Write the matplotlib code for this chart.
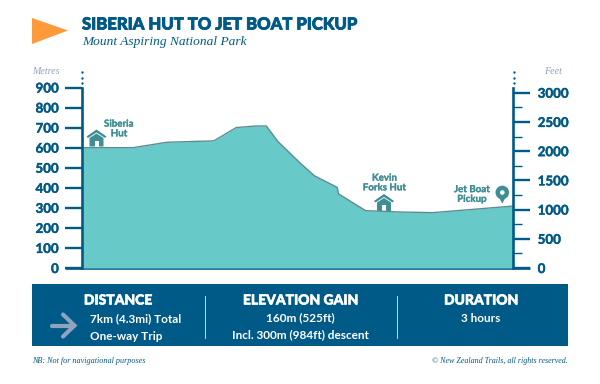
import matplotlib
matplotlib.use('Agg')
import matplotlib.pyplot as plt
import matplotlib.patheffects as pe
from matplotlib.patches import Polygon, Rectangle, Circle

# trail profile, km along the track vs elevation in metres
distance_km = [0, 0.83, 1.38, 2.14, 2.5, 2.81, 2.99, 3.18, 3.54, 3.77, 4.14, 4.16, 4.6, 5.17, 5.69, 7.0]
elevation_m = [600, 600, 627, 634, 700, 708, 708, 630, 523, 460, 402, 370, 286, 279, 276, 309]
metre_ticks = [0, 100, 200, 300, 400, 500, 600, 700, 800, 900]
feet_ticks = [0, 500, 1000, 1500, 2000, 2500, 3000]
feet_minor = [250, 750, 1250, 1750, 2250, 2750]

navy = '#005A87'
teal = '#68CAC8'
teal_dark = '#3F8E96'
outline = '#5C8C92'
orange = '#FF9A3C'
grey_blue = '#8FA3BE'
sans = 'Lato'
serif = 'Liberation Serif'


def heavy(w, col):
    # fatten the text a little, the original face is heavier than Lato
    return [pe.withStroke(linewidth=w, foreground=col)]


W, H = 600, 384
fig = plt.figure(figsize=(6, 3.84), dpi=100)
fig.patch.set_facecolor('white')

# decoration layer in pixel coordinates
bg = fig.add_axes([0, 0, 1, 1])
bg.set_xlim(0, W)
bg.set_ylim(H, 0)
bg.axis('off')

x0, x1, ytop, ybot = 82, 513.5, 87.5, 268
ax = fig.add_axes([x0 / W, 1 - ybot / H, (x1 - x0) / W, (ybot - ytop) / H])
ax.patch.set_alpha(0)
ax.set_xlim(0, 7)
ax.set_ylim(0, 900)
ax.fill_between(distance_km, elevation_m, 0, color=teal, lw=0)
ax.plot(distance_km, elevation_m, color=outline, lw=1.0)
ax.set_xticks([])
ax.set_yticks(metre_ticks)
ax.tick_params(axis='y', length=12.2, width=1.7, color=navy, pad=4.5,
               labelcolor=navy, labelsize=9.6)
for t in ax.get_yticklabels():
    t.set_fontfamily(sans)
    t.set_fontweight('bold')
    t.set_path_effects(heavy(0.3, navy))
for s in ['top', 'right', 'bottom']:
    ax.spines[s].set_visible(False)
ax.spines['left'].set_color(navy)
ax.spines['left'].set_linewidth(1.9)

# feet axis, its own scale
feet_top = 3000 * (ybot - ytop) / (ybot - 92.7)
ax2 = ax.twinx()
ax2.patch.set_alpha(0)
ax2.set_ylim(0, feet_top)
ax2.set_yticks(feet_ticks)
ax2.set_yticks(feet_minor, minor=True)
ax2.tick_params(axis='y', which='major', length=12.2, width=1.7, color=navy, pad=5.2,
                labelcolor=navy, labelsize=9.6)
ax2.tick_params(axis='y', which='minor', length=6.5, width=1.0, color=navy)
for t in ax2.get_yticklabels():
    t.set_fontfamily(sans)
    t.set_fontweight('bold')
    t.set_path_effects(heavy(0.3, navy))
for s in ['top', 'left', 'bottom']:
    ax2.spines[s].set_visible(False)
ax2.spines['right'].set_color(navy)
ax2.spines['right'].set_linewidth(1.9)

# baseline and dotted axis tops
bg.plot([65, 530], [268, 268], color=navy, lw=1.9, solid_capstyle='butt', zorder=5)
for px in [x0, x1]:
    bg.plot([px] * 3, [72, 77.5, 83], ls='none', marker='o', ms=1.7, mew=0, color=navy)

# header
bg.add_patch(Polygon([[32, 18], [32, 44], [68, 30.5]], color=orange, lw=0))
bg.text(82, 24.5, 'SIBERIA HUT TO JET BOAT PICKUP', family=sans, weight='black',
        fontsize=12.0, color=navy, va='center', ha='left', path_effects=heavy(0.6, navy))
bg.text(82, 42, 'Mount Aspiring National Park', family=serif, style='italic',
        fontsize=9.6, color=navy, va='center', ha='left')
bg.text(32, 71, 'Metres', family=serif, style='italic', fontsize=7.2, color=grey_blue,
        va='center', ha='left')
bg.text(544, 71.5, 'Feet', family=serif, style='italic', fontsize=7.2, color=grey_blue,
        va='center', ha='left')


def house(cx, base, s=1.0):
    # little hut icon, roof then walls
    bg.add_patch(Polygon([[cx - 10 * s, base - 10 * s], [cx, base - 17 * s], [cx + 10 * s, base - 10 * s],
                          [cx + 8.5 * s, base - 8.5 * s], [cx, base - 14 * s], [cx - 8.5 * s, base - 8.5 * s]],
                         color=teal_dark, lw=0, zorder=6))
    bg.add_patch(Polygon([[cx - 7 * s, base], [cx - 7 * s, base - 8.5 * s], [cx, base - 13 * s],
                          [cx + 7 * s, base - 8.5 * s], [cx + 7 * s, base]], color=teal_dark, lw=0, zorder=6))
    bg.add_patch(Rectangle((cx - 2 * s, base - 6 * s), 4 * s, 6 * s, color='white', lw=0, zorder=7))


house(96.5, 146.5)
house(384, 211)
label = dict(family=sans, weight='bold', fontsize=7.0, color=teal_dark, ha='center', va='center',
             linespacing=1.1, path_effects=heavy(0.2, teal_dark))
bg.text(119, 129, 'Siberia\nHut', **label)
bg.text(384.5, 183, 'Kevin\nForks Hut', **label)
bg.text(472, 194.5, 'Jet Boat\nPickup', **label)

# map pin
bg.add_patch(Polygon([[495.8, 191.5], [502.3, 203.5], [508.8, 191.5]], color=teal_dark, lw=0, zorder=6))
bg.add_patch(Circle((502.3, 192.5), 6.8, color=teal_dark, lw=0, zorder=6))
bg.add_patch(Circle((502.3, 192.5), 2.3, color='white', lw=0, zorder=7))

# info panel
bg.add_patch(Rectangle((32, 284), 536, 62.3, color=navy, lw=0))
for px in [204.5, 396.5]:
    bg.plot([px, px], [295.5, 338], color='#C9D6E2', lw=0.7)
head = dict(family=sans, weight='black', fontsize=10.0, color='white', ha='center', va='center',
            path_effects=heavy(0.4, 'white'))
body = dict(family=sans, weight='bold', fontsize=8.5, color='white', va='center')
bg.text(118, 300.5, 'DISTANCE', **head)
bg.text(300.5, 300.5, 'ELEVATION GAIN', **head)
bg.text(481, 300.5, 'DURATION', **head)
bg.text(90, 319, '7km (4.3mi) Total', ha='left', **body)
bg.text(90, 336, 'One-way Trip', ha='left', **body)
bg.text(300.5, 318, '160m (525ft)', ha='center', **body)
bg.text(300.5, 335, 'Incl. 300m (984ft) descent', ha='center', **body)
bg.text(481, 318, '3 hours', ha='center', **body)

# arrow in the panel
bg.plot([52, 74], [325.5, 325.5], color=grey_blue, lw=3, solid_capstyle='round', zorder=6)
bg.plot([63, 74.5, 63], [314.5, 325.5, 336.5], color=grey_blue, lw=3, solid_capstyle='round',
        solid_joinstyle='miter', zorder=6)

# footer
bg.text(32, 361, 'NB: Not for navigational purposes', family=serif, style='italic', fontsize=5.9,
        color=navy, va='center', ha='left')
bg.text(567.5, 361, '© New Zealand Trails, all rights reserved.', family=serif, style='italic', fontsize=5.8,
        color=navy, va='center', ha='right')

fig.savefig('out.png', dpi=100)
